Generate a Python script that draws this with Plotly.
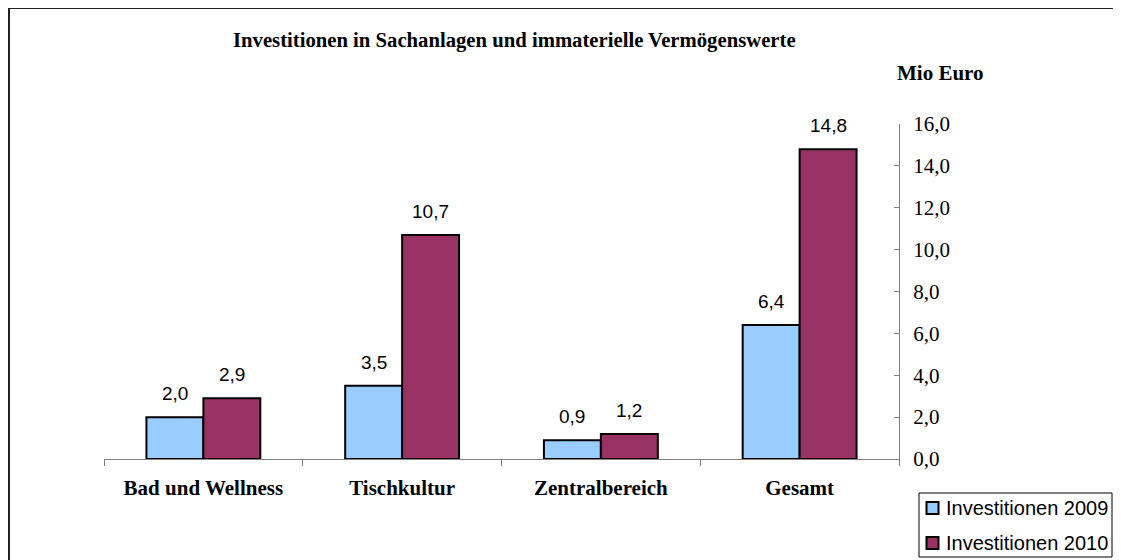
import plotly.graph_objects as go

categories = ["Bad und Wellness", "Tischkultur", "Zentralbereich", "Gesamt"]
inv_2009 = [2.0, 3.5, 0.9, 6.4]
inv_2010 = [2.9, 10.7, 1.2, 14.8]
y_ticks = [0, 2, 4, 6, 8, 10, 12, 14, 16]
series_names = ["Investitionen 2009", "Investitionen 2010"]
series_values = [inv_2009, inv_2010]
series_colors = ["#99CCFF", "#993366"]

OFF = 8  # page body margin
W, H = 1121 - OFF, 560 - OFF
# plot area in page pixels
PL, PR, PT, PB = 104, 899, 124, 459
L, R, T, B = PL - OFF, PR - OFF, PT - OFF, PB - OFF
pw, ph = R - L, B - T

def px(x):  # page x -> paper
    return (x - OFF - L) / pw

def py(y):  # page y -> paper
    return (B - (y - OFF)) / ph

SANS = "Liberation Sans, Arial"
SERIF = "Liberation Serif, Times New Roman"

fig = go.Figure()
for name, vals, col in zip(series_names, series_values, series_colors):
    fig.add_trace(go.Bar(
        x=categories, y=vals, name=name, showlegend=False,
        marker=dict(color=col, line=dict(color="black", width=2)),
    ))

bar_w = 57
for i, vals in enumerate(series_values):
    shift = (i - 0.5) * bar_w
    for c, v in zip(categories, vals):
        fig.add_annotation(
            x=c, y=v, xref="x", yref="y", text=f"{v:.1f}".replace(".", ","),
            showarrow=False, xanchor="center", yanchor="bottom",
            xshift=shift, yshift=11,
            font=dict(family=SANS, size=19, color="black"),
        )

fig.update_layout(
    width=W, height=H,
    margin=dict(l=L, r=W - R, t=T, b=H - B, pad=0, autoexpand=False),
    paper_bgcolor="white", plot_bgcolor="white",
    separators=",.",
    barmode="group", bargap=0.427, bargroupgap=0,
    showlegend=False,
    xaxis=dict(
        showline=True, linecolor="#808080", linewidth=1,
        ticks="outside", ticklen=6, tickcolor="#808080", tickson="boundaries",
        tickfont=dict(family=SERIF, size=21, color="black"),
        showgrid=False, zeroline=False, ticklabelstandoff=10, automargin=False,
    ),
    yaxis=dict(
        side="right", range=[0, 16], tickvals=y_ticks, tickformat=".1f",
        showline=True, linecolor="#808080", linewidth=1,
        ticks="inside", ticklen=5, tickcolor="#808080",
        tickfont=dict(family=SERIF, size=21, color="black"),
        showgrid=False, zeroline=False, ticklabelstandoff=9, automargin=False,
    ),
    font=dict(family=SERIF, color="black"),
)

fig.update_xaxes(tickprefix="<b>", ticksuffix="</b>")

fig.add_annotation(
    text="<b>Investitionen in Sachanlagen und immaterielle Vermögenswerte</b>",
    xref="paper", yref="paper", x=px(514), y=py(40), xanchor="center", yanchor="middle",
    showarrow=False, font=dict(family=SERIF, size=20.7, color="black"),
)
fig.add_annotation(
    text="<b>Mio Euro</b>",
    xref="paper", yref="paper", x=px(940), y=py(73), xanchor="center", yanchor="middle",
    showarrow=False, font=dict(family=SERIF, size=21, color="black"),
)
# outer chart border
fig.add_shape(
    type="rect", xref="paper", yref="paper",
    x0=px(9), x1=px(1140), y0=py(580), y1=py(8),
    line=dict(color="#222222", width=2), fillcolor="rgba(0,0,0,0)", layer="below",
)

# legend box (drawn to match the reference layout)
fig.add_shape(
    type="rect", xref="paper", yref="paper",
    x0=px(919), x1=px(1112), y0=py(557), y1=py(493),
    line=dict(color="black", width=1), fillcolor="white",
)
row_centers = [508, 543]
for name, col, yc in zip(series_names, series_colors, row_centers):
    fig.add_shape(
        type="rect", xref="paper", yref="paper",
        x0=px(926.5), x1=px(938.5), y0=py(yc + 6), y1=py(yc - 6),
        line=dict(color="black", width=2), fillcolor=col,
    )
    fig.add_annotation(
        text=name, xref="paper", yref="paper", x=px(944), y=py(yc),
        xanchor="left", yanchor="middle", showarrow=False,
        font=dict(family=SANS, size=20, color="black"),
    )

fig.write_html("out.html")
